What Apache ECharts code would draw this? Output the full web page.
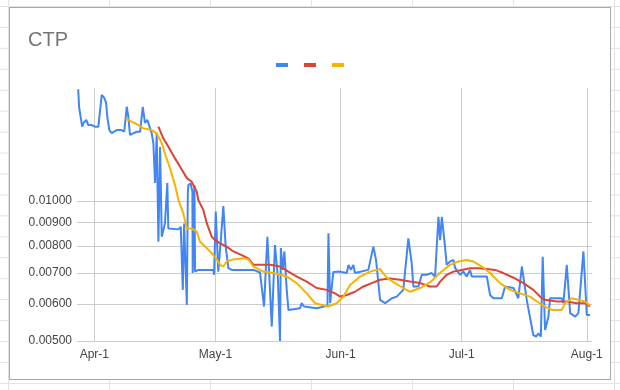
<!DOCTYPE html>
<html>
<head>
<meta charset="utf-8">
<script src="https://cdn.jsdelivr.net/npm/echarts@6/dist/echarts.min.js"></script>
<style>
html,body{margin:0;padding:0;}
body{width:620px;height:390px;position:relative;overflow:hidden;background-color:#fff;
background-image:linear-gradient(to right,#e2e2e2 1px,transparent 1px),linear-gradient(to bottom,#e2e2e2 1px,transparent 1px);
background-size:101px 100%,100% 20.94px;background-position:8px 0,0 6px;}
#frame{position:absolute;left:9px;top:7px;width:600px;height:371px;background:#fff;border:1px solid #a8a8a8;}
#chart{position:absolute;left:0;top:0;width:620px;height:390px;}
</style>
</head>
<body>
<div id="frame"></div>
<div id="chart"></div>
<script>
const YEAR = '2022-';
const title = 'CTP';
const xTickDates = ['2022-04-01', '2022-05-01', '2022-06-01', '2022-07-01', '2022-08-01'];
const xTickLabels = ['Apr-1', 'May-1', 'Jun-1', 'Jul-1', 'Aug-1'];
const yTickValues = [0.005, 0.006, 0.007, 0.008, 0.009, 0.01];
const yTickLabels = ['0.00500', '0.00600', '0.00700', '0.00800', '0.00900', '0.01000'];

const blueDates = ['03-28 00','03-28 06','03-29 00','03-29 06','03-30 00','03-30 12','03-31 06','04-01 04','04-02 00','04-02 20',
'04-03 11','04-03 22','04-04 05','04-04 17','04-05 07','04-05 17','04-06 13','04-07 19','04-08 10','04-09 01',
'04-09 10','04-09 20','04-10 06','04-11 12','04-12 08','04-13 00','04-13 13','04-14 03','04-15 05','04-15 15',
'04-16 01','04-16 11','04-16 21','04-17 07','04-17 17','04-18 02','04-18 12','04-19 02','04-19 08','04-19 18',
'04-21 20','04-22 10','04-22 22','04-23 06','04-23 22','04-24 04','04-24 07','04-24 21','04-25 07','04-25 09',
'04-25 19','04-25 23','04-26 18','04-30 12','04-30 16','05-01 02','05-01 17','05-02 08','05-02 23','05-03 13',
'05-04 05','05-05 01','05-08 18','05-09 04','05-10 10','05-12 01','05-13 01','05-13 21','05-14 23','05-15 18',
'05-16 11','05-17 00','05-17 05','05-17 16','05-18 02','05-18 16','05-19 02','05-21 23','05-22 09','05-22 23',
'05-26 02','05-28 18','05-29 00','05-29 10','05-29 20','05-30 05','05-31 21','06-02 13','06-02 23','06-03 13',
'06-04 04','06-04 14','06-07 21','06-09 03','06-09 19','06-10 19','06-12 01','06-13 17','06-14 22','06-16 13',
'06-17 19','06-18 15','06-19 01','06-20 07','06-21 03','06-22 09','06-23 14','06-24 10','06-25 06','06-25 16',
'06-26 02','06-26 21','06-27 07','06-28 03','06-28 23','06-29 09','06-30 15','07-01 01','07-01 10','07-02 06',
'07-03 02','07-03 12','07-07 06','07-08 01','07-08 21','07-10 23','07-11 18','07-13 20','07-15 01','07-15 22',
'07-17 03','07-18 18','07-19 11','07-20 00','07-20 15','07-21 02','07-21 16','07-22 12','07-22 22','07-25 19',
'07-26 05','07-27 01','07-27 21','07-29 03','07-29 22','07-31 04','08-01 00','08-01 20'];
const blueValues = [0.01739,0.01585,0.01445,0.01469,0.01494,0.01457,0.01457,0.01445,0.01445,0.01691,
0.01666,0.01625,0.01518,0.01421,0.01400,0.01409,0.01421,0.01421,0.01409,0.01596,
0.01518,0.01387,0.01400,0.01409,0.01409,0.01593,0.01472,0.01494,0.01400,0.01333,
0.01093,0.01400,0.00817,0.01307,0.00838,0.00841,0.00895,0.01093,0.00873,0.00869,
0.00869,0.00880,0.00644,0.00895,0.00598,0.01039,0.01082,0.01091,0.01047,0.00700,
0.01082,0.00705,0.00711,0.00711,0.00694,0.00949,0.00705,0.00824,0.00975,0.00798,
0.00717,0.00711,0.00711,0.00717,0.00711,0.00702,0.00593,0.00838,0.00537,0.00804,
0.00688,0.00500,0.00792,0.00711,0.00779,0.00644,0.00583,0.00588,0.00603,0.00593,
0.00588,0.00595,0.00852,0.00603,0.00604,0.00704,0.00705,0.00700,0.00729,0.00711,
0.00729,0.00700,0.00711,0.00798,0.00747,0.00613,0.00603,0.00618,0.00623,0.00644,
0.00831,0.00735,0.00655,0.00655,0.00694,0.00694,0.00700,0.00687,0.00925,0.00824,
0.00925,0.00798,0.00729,0.00741,0.00747,0.00718,0.00694,0.00688,0.00705,0.00688,
0.00711,0.00688,0.00688,0.00628,0.00618,0.00618,0.00655,0.00650,0.00618,0.00723,
0.00613,0.00515,0.00511,0.00519,0.00511,0.00759,0.00528,0.00564,0.00618,0.00618,
0.00603,0.00729,0.00574,0.00564,0.00574,0.00779,0.00569,0.00569];

const redDates = ['04-16 21','04-18 02','04-19 08','04-21 00','04-22 06','04-23 22','04-25 03','04-26 09','04-26 18','04-28 00',
'04-28 21','04-30 02','04-30 22','05-02 04','05-03 19','05-05 11','05-07 12','05-09 04','05-10 10','05-12 21',
'05-14 13','05-17 00','05-19 02','05-21 04','05-23 15','05-26 02','05-28 14','05-30 15','05-31 21','06-02 13',
'06-04 14','06-06 16','06-08 18','06-10 19','06-13 06','06-15 18','06-18 05','06-20 17','06-23 04','06-24 20',
'06-25 16','06-27 07','06-28 23','07-01 01','07-03 02','07-05 04','07-07 06','07-09 07','07-11 08','07-13 20',
'07-16 07','07-18 18','07-20 10','07-21 16','07-24 14','07-27 01','07-29 12','07-31 14','08-01 20'];
const redValues = [0.01445,0.01364,0.01309,0.01235,0.01185,0.01120,0.01100,0.01047,0.01005,0.00957,
0.00895,0.00838,0.00824,0.00811,0.00798,0.00779,0.00765,0.00753,0.00729,0.00729,
0.00729,0.00723,0.00705,0.00688,0.00671,0.00650,0.00644,0.00633,0.00623,0.00628,
0.00638,0.00655,0.00666,0.00677,0.00681,0.00677,0.00671,0.00666,0.00655,0.00655,
0.00671,0.00694,0.00705,0.00711,0.00717,0.00717,0.00714,0.00711,0.00700,0.00684,
0.00666,0.00644,0.00623,0.00613,0.00608,0.00608,0.00603,0.00603,0.00593];

const yellowDates = ['04-08 19','04-10 06','04-11 22','04-13 03','04-15 05','04-16 11','04-17 17','04-18 18','04-19 18','04-21 00',
'04-21 20','04-23 01','04-23 22','04-25 03','04-26 09','04-27 05','04-28 10','04-29 16','04-30 22','05-02 04',
'05-02 23','05-03 19','05-05 11','05-07 22','05-09 04','05-10 10','05-12 01','05-12 21','05-15 08','05-18 16',
'05-21 04','05-23 15','05-25 16','05-29 00','05-31 01','06-01 17','06-03 09','06-05 20','06-08 08','06-10 19',
'06-12 11','06-14 12','06-16 13','06-18 05','06-20 17','06-23 04','06-25 16','06-28 03','06-30 05','07-02 06',
'07-03 22','07-06 00','07-08 01','07-10 12','07-13 00','07-15 12','07-17 23','07-19 15','07-21 16','07-23 08',
'07-25 19','07-26 15','07-28 07','07-29 22','07-31 14','08-01 20'];
const yellowValues = [0.01506,0.01481,0.01457,0.01433,0.01421,0.01398,0.01331,0.01245,0.01176,0.01082,
0.01005,0.00941,0.00873,0.00873,0.00859,0.00817,0.00798,0.00779,0.00759,0.00729,
0.00723,0.00741,0.00749,0.00753,0.00749,0.00723,0.00711,0.00705,0.00700,0.00688,
0.00666,0.00633,0.00603,0.00593,0.00603,0.00623,0.00660,0.00688,0.00705,0.00714,
0.00684,0.00666,0.00650,0.00638,0.00650,0.00668,0.00701,0.00729,0.00741,0.00747,
0.00741,0.00723,0.00700,0.00666,0.00644,0.00633,0.00623,0.00608,0.00593,0.00583,
0.00583,0.00603,0.00618,0.00613,0.00608,0.00595];

const toTime = s => echarts.time.parse(s).getTime();
function pair(dates, values) {
  return dates.map((d, i) => [toTime(YEAR + d + ':00'), values[i]]);
}
const xTickTimes = xTickDates.map(toTime);

const chart = echarts.init(document.getElementById('chart'), null, {renderer: 'canvas'});
const lineCommon = {type: 'line', showSymbol: false, symbol: 'none', animation: false, smooth: false};
chart.setOption({
  backgroundColor: 'transparent',
  animation: false,
  title: {text: title, left: 23, top: 25, textStyle: {fontFamily: 'Arial, "Liberation Sans"', fontSize: 20, fontWeight: 'normal', color: '#757575'}},
  legend: {
    left: 271, top: 58, itemWidth: 12, itemHeight: 4, itemGap: 16, icon: 'rect',
    formatter: () => '', textStyle: {fontSize: 1},
    data: ['a', 'b', 'c']
  },
  grid: {left: 77, right: 28, top: 88, bottom: 49, containLabel: false},
  xAxis: {
    type: 'value',
    min: toTime(YEAR + '03-27 17:00'), max: toTime(YEAR + '08-02 07:00'),
    axisLine: {show: false},
    axisTick: {show: false, customValues: xTickTimes},
    axisLabel: {customValues: xTickTimes, margin: 8, color: '#444', fontSize: 12, fontFamily: 'Arial, "Liberation Sans"',
      formatter: v => { let best = 0; xTickTimes.forEach((t, i) => { if (Math.abs(t - v) < Math.abs(xTickTimes[best] - v)) best = i; }); return xTickLabels[best]; }},
    splitLine: {show: true, lineStyle: {color: '#cccccc', width: 1}}
  },
  yAxis: {
    type: 'log', logBase: 10, min: 0.005, max: 0.0175,
    axisLine: {show: false},
    axisTick: {show: false, customValues: yTickValues},
    axisLabel: {customValues: yTickValues, margin: 5, color: '#444', fontSize: 12, fontFamily: 'Arial, "Liberation Sans"',
      formatter: v => { let best = 0; yTickValues.forEach((t, i) => { if (Math.abs(t - v) < Math.abs(yTickValues[best] - v)) best = i; }); return yTickLabels[best]; }},
    splitLine: {show: true, lineStyle: {color: '#cccccc', width: 1}}
  },
  series: [
    Object.assign({name: 'a', data: pair(blueDates, blueValues), lineStyle: {width: 2, color: '#4285F4'}, itemStyle: {color: '#4285F4'}}, lineCommon),
    Object.assign({name: 'b', data: pair(redDates, redValues), lineStyle: {width: 2, color: '#DB4437'}, itemStyle: {color: '#DB4437'}}, lineCommon),
    Object.assign({name: 'c', data: pair(yellowDates, yellowValues), lineStyle: {width: 2, color: '#F4B400'}, itemStyle: {color: '#F4B400'}}, lineCommon)
  ]
});
</script>
</body>
</html>
